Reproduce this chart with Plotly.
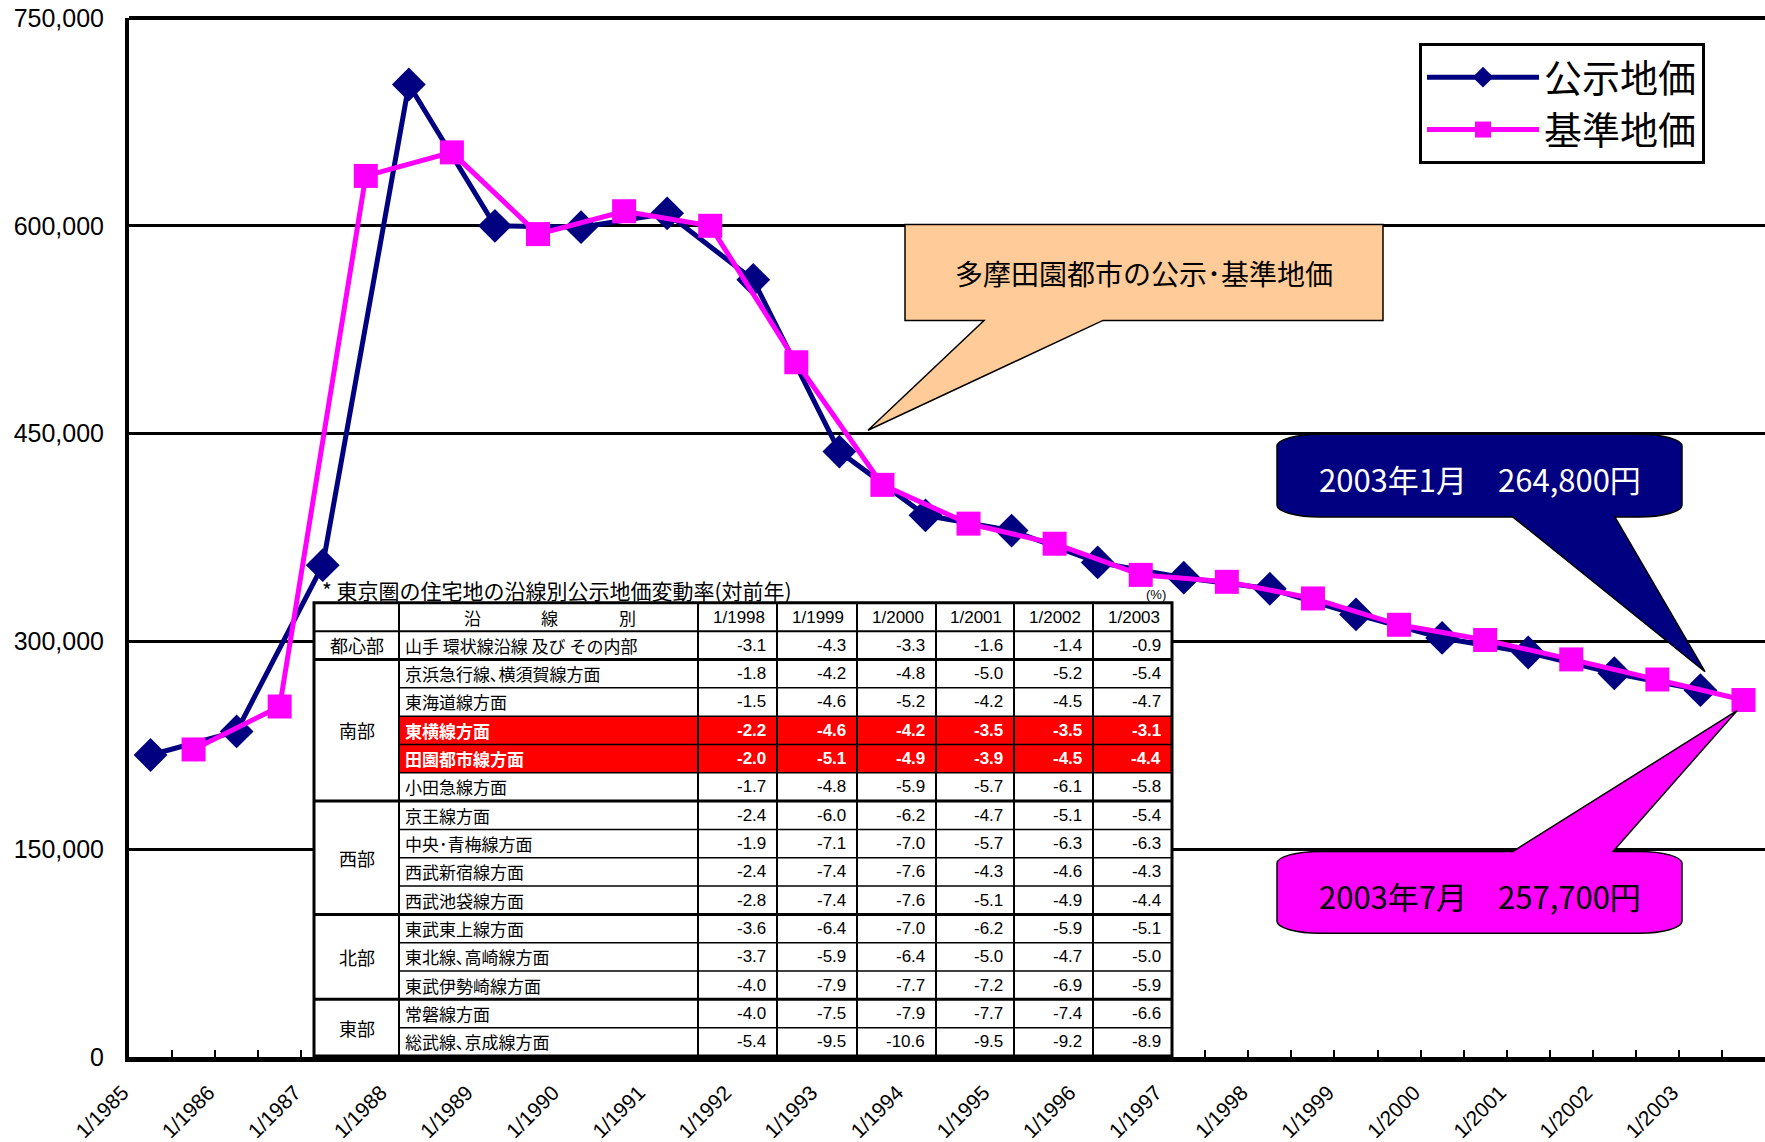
import plotly.graph_objects as go

# ---------------- data ----------------
jan_periods = ["1/1985", "1/1986", "1/1987", "1/1988", "1/1989", "1/1990", "1/1991", "1/1992", "1/1993", "1/1994",
               "1/1995", "1/1996", "1/1997", "1/1998", "1/1999", "1/2000", "1/2001", "1/2002", "1/2003"]
jul_periods = ["7/1985", "7/1986", "7/1987", "7/1988", "7/1989", "7/1990", "7/1991", "7/1992", "7/1993", "7/1994",
               "7/1995", "7/1996", "7/1997", "7/1998", "7/1999", "7/2000", "7/2001", "7/2002", "7/2003"]

koji_price = [218000, 235000, 355000, 702000, 600000, 599000, 609000, 561000, 437000, 391000,
              380000, 357000, 346000, 338000, 319500, 302500, 292000, 277000, 264800]
kijun_price = [222000, 253000, 636000, 653000, 594000, 610500, 600000, 501500, 413000, 385000,
               370500, 348000, 343000, 331000, 312000, 301000, 287000, 272500, 257700]

all_periods = [p for pair in zip(jan_periods, jul_periods) for p in pair]
tick_text = [p if p in jan_periods else "" for p in all_periods]

y_ticks = [0, 150000, 300000, 450000, 600000, 750000]

# table data
table_title = "* 東京圏の住宅地の沿線別公示地価変動率(対前年)"
table_years = ["1/1998", "1/1999", "1/2000", "1/2001", "1/2002", "1/2003"]
regions = ["都心部", "南部", "西部", "北部", "東部"]
region_spans = [1, 5, 4, 3, 2]
line_names = ["山手 環状線沿線 及び その内部", "京浜急行線､横須賀線方面", "東海道線方面", "東横線方面", "田園都市線方面",
              "小田急線方面", "京王線方面", "中央･青梅線方面", "西武新宿線方面", "西武池袋線方面",
              "東武東上線方面", "東北線､高崎線方面", "東武伊勢崎線方面", "常磐線方面", "総武線､京成線方面"]
rates = [
    [-3.1, -4.3, -3.3, -1.6, -1.4, -0.9],
    [-1.8, -4.2, -4.8, -5.0, -5.2, -5.4],
    [-1.5, -4.6, -5.2, -4.2, -4.5, -4.7],
    [-2.2, -4.6, -4.2, -3.5, -3.5, -3.1],
    [-2.0, -5.1, -4.9, -3.9, -4.5, -4.4],
    [-1.7, -4.8, -5.9, -5.7, -6.1, -5.8],
    [-2.4, -6.0, -6.2, -4.7, -5.1, -5.4],
    [-1.9, -7.1, -7.0, -5.7, -6.3, -6.3],
    [-2.4, -7.4, -7.6, -4.3, -4.6, -4.3],
    [-2.8, -7.4, -7.6, -5.1, -4.9, -4.4],
    [-3.6, -6.4, -7.0, -6.2, -5.9, -5.1],
    [-3.7, -5.9, -6.4, -5.0, -4.7, -5.0],
    [-4.0, -7.9, -7.7, -7.2, -6.9, -5.9],
    [-4.0, -7.5, -7.9, -7.7, -7.4, -6.6],
    [-5.4, -9.5, -10.6, -9.5, -9.2, -8.9],
]
highlight_lines = ["東横線方面", "田園都市線方面"]

callout_main = "多摩田園都市の公示･基準地価"
callout_jan = "2003年1月　264,800円"
callout_jul = "2003年7月　257,700円"

# ---------------- layout geometry (pixels) ----------------
W, H = 1765, 1142
L, R, T, B = 129, 1765, 18, 1059
NAVY = "#000080"
MAG = "#FF00FF"
JP = "Noto Sans CJK JP"
AR = "Liberation Sans, Arial, Noto Sans CJK JP"


def fx(x):
    return (x - L) / (R - L)


def fy(y):
    return (B - y) / (B - T)


def pth(cmds):
    out = []
    for c in cmds:
        if isinstance(c, str):
            out.append(c)
        else:
            out.append(f"{fx(c[0]):.5f},{fy(c[1]):.5f}")
    return " ".join(out)


def text(x, y, s, size, family=JP, color="black", xanchor="center"):
    return dict(x=fx(x), y=fy(y), xref="paper", yref="paper", text=s, showarrow=False,
                xanchor=xanchor, yanchor="middle", font=dict(family=family, size=size, color=color))


fig = go.Figure()
fig.add_trace(go.Scatter(
    x=jan_periods, y=koji_price, name="公示地価", mode="lines+markers",
    line=dict(color=NAVY, width=5),
    marker=dict(symbol="diamond", size=26, color=NAVY),
))
fig.add_trace(go.Scatter(
    x=jul_periods, y=kijun_price, name="基準地価", mode="lines+markers",
    line=dict(color=MAG, width=5),
    marker=dict(symbol="square", size=24, color=MAG),
))

shapes = []
ann = []

# top border of plot
shapes.append(dict(type="line", xref="paper", yref="paper", x0=0, x1=1, y0=1, y1=1,
                   line=dict(color="black", width=4), layer="above"))

# ---------- orange callout ----------
bx1, bx2, by1, by2 = 905, 1383, 225, 321
shapes.append(dict(type="path", xref="paper", yref="paper", layer="above",
                   path=pth(["M", (bx1, by1), "L", (bx2, by1), "L", (bx2, by2), "L", (1103, by2),
                             "L", (868, 431), "L", (984, by2), "L", (bx1, by2), "Z"]),
                   fillcolor="#FFCC99", line=dict(color="black", width=1.5)))
ann.append(text((bx1 + bx2) / 2, 273, callout_main, 28))


def rounded_callout(x1, x2, y1, y2, base1, base2, tip, tail_bottom, color):
    rx, ry = 43, 12
    k = 0.5523
    c = ["M", (x1 + rx, y1)]
    if not tail_bottom:
        c += ["L", (base1, y1), "L", tip, "L", (base2, y1)]
    c += ["L", (x2 - rx, y1), "C", (x2 - rx + k * rx, y1), (x2, y1 + ry - k * ry), (x2, y1 + ry),
          "L", (x2, y2 - ry), "C", (x2, y2 - ry + k * ry), (x2 - rx + k * rx, y2), (x2 - rx, y2)]
    if tail_bottom:
        c += ["L", (base2, y2), "L", tip, "L", (base1, y2)]
    c += ["L", (x1 + rx, y2), "C", (x1 + rx - k * rx, y2), (x1, y2 - ry + k * ry), (x1, y2 - ry),
          "L", (x1, y1 + ry), "C", (x1, y1 + ry - k * ry), (x1 + rx - k * rx, y1), (x1 + rx, y1), "Z"]
    return dict(type="path", xref="paper", yref="paper", layer="above", path=pth(c),
                fillcolor=color, line=dict(color="black", width=1.5))


shapes.append(rounded_callout(1277, 1682, 435, 518, 1513, 1615, (1705, 673), True, NAVY))
ann.append(text(1480, 479, callout_jan, 31, color="white"))
shapes.append(rounded_callout(1277, 1682, 853, 935, 1513, 1613, (1737, 712), False, MAG))
ann.append(text(1480, 897, callout_jul, 31))

# ---------- table ----------
col_x = [314, 399, 698, 777, 857, 936, 1014, 1093, 1172]
t_top, t_bot = 604, 1058
nrows = len(line_names) + 1
rh = (t_bot - t_top) / nrows


def row_y(i):
    return t_top + i * rh


shapes.append(dict(type="rect", xref="paper", yref="paper", layer="above",
                   x0=fx(col_x[0]), x1=fx(col_x[-1]), y0=fy(t_top), y1=fy(t_bot),
                   fillcolor="white", line=dict(width=0)))
for r, name in enumerate(line_names):
    if name in highlight_lines:
        shapes.append(dict(type="rect", xref="paper", yref="paper", layer="above",
                           x0=fx(col_x[1]), x1=fx(col_x[-1]), y0=fy(row_y(r + 1)), y1=fy(row_y(r + 2)),
                           fillcolor="#FF0000", line=dict(width=0)))


def hline(x0, x1, y, w):
    shapes.append(dict(type="line", xref="paper", yref="paper", layer="above",
                       x0=fx(x0), x1=fx(x1), y0=fy(y), y1=fy(y), line=dict(color="black", width=w)))


def vline(x, y0, y1, w):
    shapes.append(dict(type="line", xref="paper", yref="paper", layer="above",
                       x0=fx(x), x1=fx(x), y0=fy(y0), y1=fy(y1), line=dict(color="black", width=w)))


hline(col_x[0], col_x[-1], row_y(1), 2)
group_ends = []
acc = 0
for s in region_spans:
    acc += s
    group_ends.append(acc)
for r in range(1, len(line_names)):
    if r in group_ends:
        hline(col_x[0], col_x[-1], row_y(r + 1), 3)
    else:
        hline(col_x[1], col_x[-1], row_y(r + 1), 1.5)
for x in col_x[1:-1]:
    vline(x, t_top, t_bot, 2)
shapes.append(dict(type="rect", xref="paper", yref="paper", layer="above",
                   x0=fx(col_x[0]), x1=fx(col_x[-1]), y0=fy(t_top), y1=fy(t_bot),
                   line=dict(color="black", width=3)))

# table texts
ann.append(text(320, 591, table_title, 21, xanchor="left"))
ann.append(text(1168, 596, "(%)", 13, family=AR, xanchor="right"))
hdr_y = (row_y(0) + row_y(1)) / 2
for ch, cx in zip(["沿", "線", "別"], [472, 549, 627]):
    ann.append(text(cx, hdr_y, ch, 17))
for j, yr in enumerate(table_years):
    ann.append(text((col_x[j + 2] + col_x[j + 3]) / 2 + 1, hdr_y, yr, 17, family=AR))
start = 0
for reg, s in zip(regions, region_spans):
    yc = (row_y(start + 1) + row_y(start + 1 + s)) / 2
    ann.append(text((col_x[0] + col_x[1]) / 2, yc, reg, 18))
    start += s
for r, name in enumerate(line_names):
    yc = (row_y(r + 1) + row_y(r + 2)) / 2
    hl = name in highlight_lines
    col = "white" if hl else "black"
    txt = f"<b>{name}</b>" if hl else name
    ann.append(text(col_x[1] + 4, yc, txt, 17, color=col, xanchor="left"))
    for j, v in enumerate(rates[r]):
        t = f"{v:.1f}"
        t = f"<b>{t}</b>" if hl else t
        ann.append(text(col_x[j + 3] - 9, yc, t, 17, family=AR, color=col, xanchor="right"))

fig.update_layout(
    width=W, height=H,
    margin=dict(l=L, r=W - R, t=T, b=H - B),
    paper_bgcolor="white", plot_bgcolor="white",
    showlegend=True,
    legend=dict(x=fx(1419), y=fy(43), xanchor="left", yanchor="top",
                bordercolor="black", borderwidth=3, bgcolor="white",
                font=dict(family=JP, size=38, color="black"), itemwidth=112,
                tracegroupgap=0),
    xaxis=dict(type="category", categoryorder="array", categoryarray=all_periods,
               range=[-0.5, len(all_periods) - 0.5],
               tickmode="array", tickvals=all_periods, ticktext=tick_text,
               tickson="boundaries", ticks="inside", ticklen=7, tickwidth=2, tickcolor="black",
               tickangle=-45, ticklabelshift=-28, ticklabelstandoff=10,
               tickfont=dict(family=AR, size=21, color="black"),
               showgrid=False, showline=True, linecolor="black", linewidth=5, zeroline=False),
    yaxis=dict(range=[0, 750000], tickmode="array", tickvals=y_ticks, tickformat=",",
               showgrid=True, gridcolor="black", gridwidth=2.5,
               showline=True, linecolor="black", linewidth=4, zeroline=False,
               ticks="", ticklabelstandoff=16,
               tickfont=dict(family=AR, size=25, color="black")),
    shapes=shapes, annotations=ann,
)

fig.write_html("out.html", config={"displayModeBar": False},
               post_script="document.body.style.margin='0px';document.body.style.overflow='hidden';")
